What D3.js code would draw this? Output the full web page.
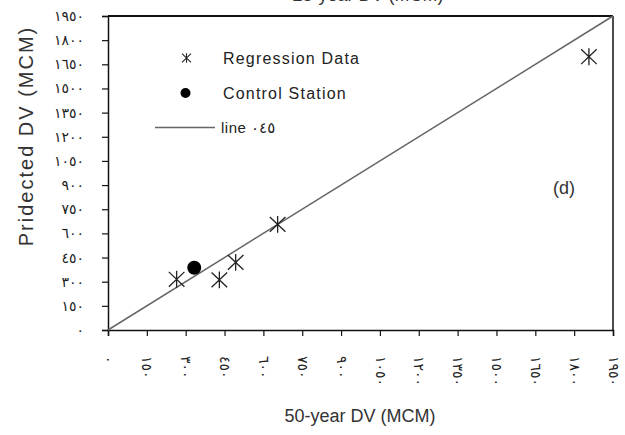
<!DOCTYPE html>
<html>
<head>
<meta charset="utf-8">
<script src="https://cdn.jsdelivr.net/npm/d3@7"></script>
<style>
  body { margin: 0; background: #fff; }
  text { font-family: "Liberation Sans", Arial, "DejaVu Sans", sans-serif; }
  .tick-label { font-family: "DejaVu Sans", sans-serif; font-size: 14px; fill: #222; letter-spacing: 1.8px; }
</style>
</head>
<body>
<svg id="chart" width="625" height="435"></svg>
<script>
// DATA
const tickValues = [0, 150, 300, 450, 600, 750, 900, 1050, 1200, 1350, 1500, 1650, 1800, 1950];
const regressionX = [265, 430, 493, 655, 1857];
const regressionY = [315, 311, 420, 656, 1697];
const controlX = [333];
const controlY = [387];
const lineEnds = [0, 1950];
const legendLabels = ["Regression Data", "Control Station", "line ٠٤٥"];

// arabic-indic digits for tick labels
const arDigits = "٠١٢٣٤٥٦٧٨٩";
function toArabic(v) {
  return String(v).replace(/\d/g, d => arDigits[d]);
}

const _plot = {left: 108, right: 613, top: 16, bottom: 330};
const _ink = {axis: "#111", text: "#333", line: "#666", star: "#222"};

let svg = d3.select("#chart");

let x = d3.scaleLinear().domain([0, 1950]).range([_plot.left, _plot.right]);
let y = d3.scaleLinear().domain([0, 1950]).range([_plot.bottom, _plot.top]);

// star marker: vertical bar + X
function starPath(r) {
  return `M0,${-r * 1.08}L0,${r * 1.08}M${-r},${-r * 0.95}L${r},${r * 0.95}M${-r},${r * 0.95}L${r},${-r * 0.95}`;
}

// title of the panel above, mostly outside the page
svg.append("text")
    .attr("x", 368)
    .attr("y", 0.5)
    .attr("text-anchor", "middle")
    .attr("font-size", 18)
    .attr("fill", _ink.text)
    .text("25-year DV (MCM)");

// frame (top & right)
svg.append("line")
    .attr("x1", _plot.left).attr("x2", _plot.right)
    .attr("y1", _plot.top).attr("y2", _plot.top)
    .attr("stroke", _ink.axis).attr("stroke-width", 2);
svg.append("line")
    .attr("x1", _plot.right).attr("x2", _plot.right)
    .attr("y1", _plot.top).attr("y2", _plot.bottom)
    .attr("stroke", _ink.axis).attr("stroke-width", 1.5);

// axes
let xAxis = svg.append("g")
    .attr("transform", `translate(0, ${_plot.bottom})`)
    .call(d3.axisBottom(x).tickValues(tickValues).tickSize(6).tickFormat(toArabic));
xAxis.select(".domain").attr("stroke", _ink.axis).attr("stroke-width", 1.5);
xAxis.selectAll(".tick line").attr("stroke", _ink.axis).attr("stroke-width", 1.2);
xAxis.selectAll(".tick text")
    .attr("class", "tick-label")
    .attr("text-anchor", "start")
    .attr("transform", "translate(0, 26) rotate(90)")
    .attr("x", 0)
    .attr("y", 0)
    .attr("dy", "0.35em");

let yAxis = svg.append("g")
    .attr("transform", `translate(${_plot.left}, 0)`)
    .call(d3.axisLeft(y).tickValues(tickValues).tickSize(6).tickFormat(toArabic));
yAxis.select(".domain").attr("stroke", _ink.axis).attr("stroke-width", 1.5);
yAxis.selectAll(".tick line").attr("stroke", _ink.axis).attr("stroke-width", 1.2);
yAxis.selectAll(".tick text")
    .attr("class", "tick-label")
    .attr("x", -24);

// 45 degree line
svg.append("line")
    .attr("x1", x(lineEnds[0])).attr("y1", y(lineEnds[0]))
    .attr("x2", x(lineEnds[1])).attr("y2", y(lineEnds[1]))
    .attr("stroke", _ink.line).attr("stroke-width", 1.5);

// regression stars
svg.append("g")
    .selectAll("path")
    .data(d3.zip(regressionX, regressionY))
    .enter()
    .append("path")
        .attr("transform", d => `translate(${x(d[0])}, ${y(d[1])})`)
        .attr("d", starPath(7.8))
        .attr("fill", "none")
        .attr("stroke", _ink.star)
        .attr("stroke-width", 1.3);

// control station
svg.append("g")
    .selectAll("circle")
    .data(d3.zip(controlX, controlY))
    .enter()
    .append("circle")
        .attr("cx", d => x(d[0]))
        .attr("cy", d => y(d[1]))
        .attr("r", 7)
        .attr("fill", "#000");

// legend
let legend = svg.append("g");
legend.append("path")
    .attr("transform", "translate(186.5, 58)")
    .attr("d", starPath(4.5))
    .attr("fill", "none")
    .attr("stroke", _ink.star)
    .attr("stroke-width", 1.1);
legend.append("circle")
    .attr("cx", 185.5).attr("cy", 93).attr("r", 5)
    .attr("fill", "#000");
legend.append("line")
    .attr("x1", 155).attr("x2", 215)
    .attr("y1", 127.5).attr("y2", 127.5)
    .attr("stroke", _ink.line).attr("stroke-width", 1.3);
legend.selectAll("text")
    .data(legendLabels)
    .enter()
    .append("text")
        .attr("x", (d, i) => i == 2 ? 221 : 223)
        .attr("y", (d, i) => [64, 99, 133][i])
        .attr("font-size", (d, i) => i == 2 ? 15 : 16)
        .attr("letter-spacing", (d, i) => i == 2 ? 0.5 : 1.2)
        .attr("fill", "#222")
        .text(d => d);

// panel tag
svg.append("text")
    .attr("x", 553)
    .attr("y", 194)
    .attr("font-size", 18)
    .attr("fill", _ink.text)
    .text("(d)");

// axis titles
svg.append("text")
    .attr("x", 360)
    .attr("y", 422)
    .attr("text-anchor", "middle")
    .attr("font-size", 18)
    .attr("fill", _ink.text)
    .text("50-year DV (MCM)");
svg.append("text")
    .attr("transform", "translate(33, 136) rotate(-90)")
    .attr("text-anchor", "middle")
    .attr("font-size", 20)
    .attr("letter-spacing", 2)
    .attr("fill", _ink.text)
    .text("Pridected DV (MCM)");
</script>
</body>
</html>
